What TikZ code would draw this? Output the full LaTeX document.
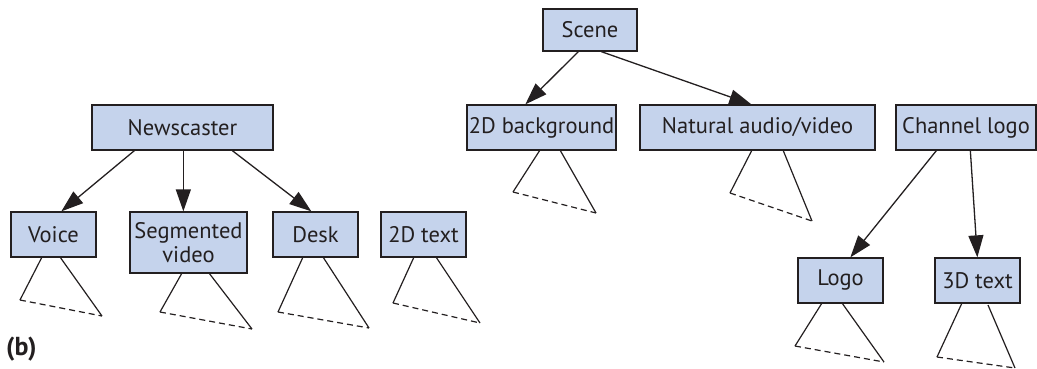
\documentclass[tikz,border=0pt]{standalone}
\usepackage{fontspec}
\setmainfont{PT Sans}
\usetikzlibrary{arrows.meta}
\definecolor{boxfill}{RGB}{197,211,236}
\definecolor{ink}{RGB}{35,31,32}
\tikzset{
  box/.style={draw=ink, line width=1.3pt, fill=boxfill, inner sep=0pt, minimum height=45pt, text=ink,
    font=\fontsize{22.5}{23}\selectfont, align=center},
  arr/.style={draw=ink, line width=1.3pt, -{Triangle[length=22pt,width=15pt]}},
  tri/.style={draw=ink, line width=1.2pt},
  dsh/.style={draw=ink, line width=1.2pt, dash pattern=on 6pt off 4pt},
}
\newcommand{\subtri}[4]{%
  \draw[tri] (#1) -- (#3); \draw[tri] (#2) -- (#4); \draw[dsh] (#3) -- (#4);}
\begin{document}
\begin{tikzpicture}[x=1pt,y=-1pt]
\useasboundingbox (0,0) rectangle (1037,368);
% nodes
\node[box, minimum width=94pt, minimum height=42pt] (scene) at (590,30) {Scene};
\node[box, minimum width=181pt] (news) at (182.5,127.5) {Newscaster};
\node[box, minimum width=149pt] (bg) at (541.5,127.5) {2D background};
\node[box, minimum width=235pt] (nat) at (757.5,127.5) {Natural audio/video};
\node[box, minimum width=140pt] (chan) at (966,127.5) {Channel logo};
\node[box, minimum width=85pt] (voice) at (53.5,234.5) {Voice};
\node[box, minimum width=117pt, minimum height=61pt, font=\fontsize{22.5}{23.5}\selectfont] (seg) at (188.5,242.5) {Segmented\\video};
\node[box, minimum width=85pt] (desk) at (315.5,234.5) {Desk};
\node[box, minimum width=85pt] (txt2) at (423.5,234.5) {2D text};
\node[box, minimum width=85pt] (logo) at (840.5,280.5) {Logo};
\node[box, minimum width=85pt] (txt3) at (977.5,280.5) {3D text};
\node[anchor=west, inner sep=0pt, text=ink, font=\fontsize{26}{27}\selectfont\bfseries] (lbl) at (6,349) {(b)};
% arrows
\draw[arr] ([xshift=36pt]scene.south west) -- ([xshift=59pt]bg.north west);
\draw[arr] ([xshift=59pt]scene.south west) -- ([xshift=112pt]nat.north west);
\draw[arr] ([xshift=43pt]news.south west) -- ([xshift=51pt]voice.north west);
\draw[arr] ([xshift=92pt]news.south west) -- ([xshift=54pt]seg.north west);
\draw[arr] ([xshift=141pt]news.south west) -- ([xshift=39pt]desk.north west);
\draw[arr] ([xshift=41pt]chan.south west) -- ([xshift=53pt]logo.north west);
\draw[arr] ([xshift=75pt]chan.south west) -- ([xshift=43pt]txt3.north west);
% subtree triangles
\subtri{42,257}{60,257}{20,300}{102,316}
\subtri{182,273}{209,273}{160,312}{252,329}
\subtri{303,257}{323,257}{278,312}{369,328}
\subtri{414,257}{436,257}{393,303}{480,323}
\subtri{540,150}{560,150}{513,192}{596,213}
\subtri{752,150}{783,150}{730,193}{812,221}
\subtri{822,303}{842,303}{795,346}{884,362}
\subtri{962,303}{988,305}{937,357}{1015,368}
\end{tikzpicture}
\end{document}
